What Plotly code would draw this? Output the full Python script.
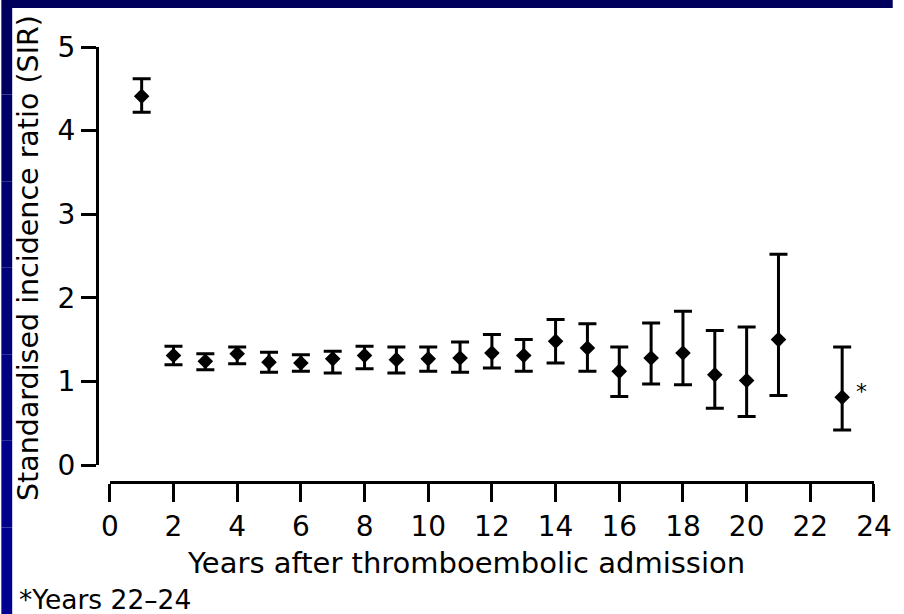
import plotly.graph_objects as go

# ---- data ----
years = [1, 2, 3, 4, 5, 6, 7, 8, 9, 10, 11, 12, 13, 14, 15, 16, 17, 18, 19, 20, 21, 23]
sir = [4.41, 1.31, 1.24, 1.33, 1.23, 1.22, 1.27, 1.31, 1.26, 1.27, 1.28,
       1.34, 1.31, 1.48, 1.40, 1.12, 1.28, 1.34, 1.08, 1.01, 1.50, 0.81]
ci_upper = [4.62, 1.42, 1.33, 1.41, 1.35, 1.32, 1.36, 1.42, 1.41, 1.41, 1.47,
            1.56, 1.50, 1.74, 1.69, 1.41, 1.70, 1.84, 1.61, 1.65, 2.52, 1.41]
ci_lower = [4.22, 1.20, 1.14, 1.21, 1.11, 1.12, 1.10, 1.15, 1.10, 1.12, 1.11,
            1.16, 1.12, 1.22, 1.12, 0.82, 0.97, 0.96, 0.68, 0.58, 0.83, 0.42]
x_ticks = [0, 2, 4, 6, 8, 10, 12, 14, 16, 18, 20, 22, 24]
y_ticks = [0, 1, 2, 3, 4, 5]
x_title = "Years after thromboembolic admission"
y_title = "Standardised incidence ratio (SIR)"
footnote = "*Years 22\u201324"
star_x, star_y = 23.6, 0.88

err_plus = [u - s for u, s in zip(ci_upper, sir)]
err_minus = [s - l for s, l in zip(sir, ci_lower)]

W, H = 904, 614
L, R, T, B = 97, 19, 47, 132
PW, PH = W - L - R, H - T - B


def px(xp):
    return (xp - L) / PW


def py(yp):
    return (H - B - yp) / PH


FONT = "DejaVu Sans, Liberation Sans, Arial, sans-serif"

fig = go.Figure()
fig.add_trace(go.Scatter(
    x=years, y=sir, mode="markers",
    marker=dict(symbol="diamond", size=12, color="black"),
    error_y=dict(type="data", symmetric=False, array=err_plus, arrayminus=err_minus,
                 color="black", thickness=3, width=9),
    showlegend=False, cliponaxis=False,
))

fig.update_layout(
    width=W, height=H, autosize=False,
    margin=dict(l=L, r=R, t=T, b=B),
    paper_bgcolor="white", plot_bgcolor="white",
    font=dict(family=FONT, color="black", size=28),
    xaxis=dict(
        domain=[px(110), 1], range=[0, 24], anchor="free", position=0,
        tickvals=x_ticks, ticktext=[str(v) for v in x_ticks],
        showline=True, linecolor="black", linewidth=3,
        ticks="outside", ticklen=18, tickwidth=3, tickcolor="black",
        showgrid=False, zeroline=False,
        tickfont=dict(family=FONT, size=28, color="black"),
    ),
    yaxis=dict(
        domain=[py(465), 1], range=[0, 5], anchor="free", position=0,
        tickvals=y_ticks, ticktext=[str(v) for v in y_ticks],
        showline=True, linecolor="black", linewidth=3,
        ticks="outside", ticklen=15, tickwidth=3, tickcolor="black",
        showgrid=False, zeroline=False,
        tickfont=dict(family=FONT, size=28, color="black"),
    ),
    annotations=[
        dict(text=x_title, xref="paper", yref="paper", x=px(471), y=py(563),
             xanchor="center", yanchor="middle", showarrow=False,
             font=dict(family=FONT, size=29, color="black")),
        dict(text=y_title, xref="paper", yref="paper", x=px(27), y=py(258),
             xanchor="center", yanchor="middle", textangle=-90, showarrow=False,
             font=dict(family=FONT, size=28.5, color="black")),
        dict(text=footnote, xref="paper", yref="paper", x=px(16), y=py(599),
             xanchor="left", yanchor="middle", showarrow=False,
             font=dict(family=FONT, size=26.5, color="black")),
        dict(text="*", xref="x", yref="y", x=star_x, y=star_y,
             xanchor="center", yanchor="middle", showarrow=False,
             font=dict(family=FONT, size=22, color="black")),
    ],
)

# dark blue frame (top band and left band with a light vertical gradient)
shapes = [dict(type="rect", xref="paper", yref="paper", x0=px(0), x1=px(W), y0=py(0), y1=py(8),
               fillcolor="#00005c", line=dict(width=0), layer="above")]
band_cols = ["#000062", "#00006a", "#000072", "#00007a", "#000082", "#00008a", "#000090"]
n = len(band_cols)
for i, c in enumerate(band_cols):
    y0p = 8 + (H - 8) * i / n
    y1p = 8 + (H - 8) * (i + 1) / n
    shapes.append(dict(type="rect", xref="paper", yref="paper", x0=px(0), x1=px(11),
                       y0=py(y1p), y1=py(y0p), fillcolor=c, line=dict(width=0), layer="above"))
fig.update_layout(shapes=shapes)

fig.write_html(
    "out.html",
    config={"displayModeBar": False, "responsive": False},
    post_script=(
        "document.body.style.margin='0';document.body.style.overflow='hidden';"
        "document.body.style.background='linear-gradient(to bottom, #00005c 0px, #00005c 8px, #ffffff 8px)';"
        "Plotly.relayout(document.getElementById('{plot_id}'), {width: 904, height: 614});"
    ),
)
